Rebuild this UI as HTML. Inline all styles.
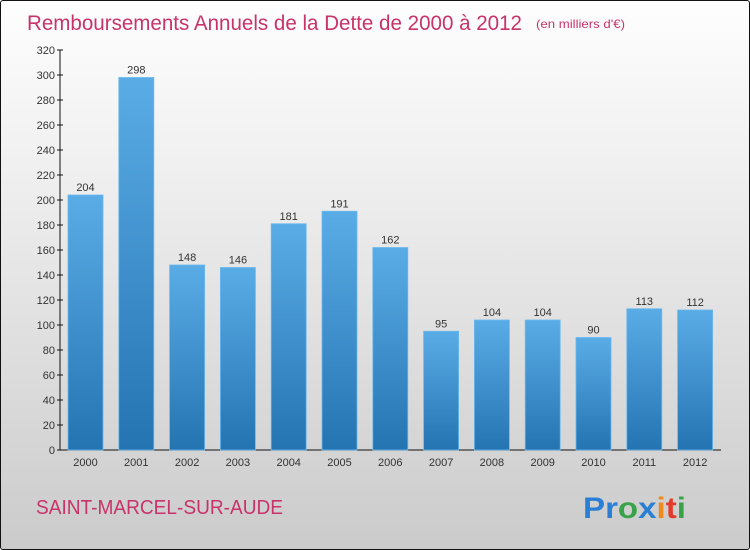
<!DOCTYPE html>
<html><head><meta charset="utf-8"><style>
body{margin:0;width:750px;height:550px;overflow:hidden;font-family:"Liberation Sans",sans-serif}
#wrap{position:absolute;left:0;top:0;width:748px;height:548px;border:1px solid #111;border-radius:3px;background:linear-gradient(#fefefe,#f0f0f0 30%,#cbcbcb)}
</style></head><body>
<div id="wrap">
<svg width="750" height="550" style="position:absolute;left:-1px;top:-1px">
<defs><linearGradient id="bg" x1="0" y1="0" x2="0" y2="1"><stop offset="0" stop-color="#5aace6"/><stop offset="1" stop-color="#2474b2"/></linearGradient></defs>
<text x="27" y="30" font-size="21" fill="#c8336a" textLength="495" lengthAdjust="spacingAndGlyphs">Remboursements Annuels de la Dette de 2000 à 2012</text>
<text x="536" y="28" font-size="12" fill="#c8336a" textLength="89" lengthAdjust="spacingAndGlyphs">(en milliers d'€)</text>
<g id="axes"></g><g id="bars"></g>
<text x="36" y="514" font-size="20" fill="#c8336a" textLength="247" lengthAdjust="spacingAndGlyphs">SAINT-MARCEL-SUR-AUDE</text>
<text x="583" y="518" font-size="30" font-weight="bold" textLength="103" lengthAdjust="spacingAndGlyphs"><tspan fill="#2a7fd4">Pr</tspan><tspan fill="#3aa34a">o</tspan><tspan fill="#2a7fd4">x</tspan><tspan fill="#f08a1c">i</tspan><tspan fill="#e23b2c">t</tspan><tspan fill="#3aa34a">i</tspan></text>
</svg></div>
<script>
const years=["2000","2001","2002","2003","2004","2005","2006","2007","2008","2009","2010","2011","2012"];
const values=[204,298,148,146,181,191,162,95,104,104,90,113,112];
const ticks=[0,20,40,60,80,100,120,140,160,180,200,220,240,260,280,300,320];
const NS="http://www.w3.org/2000/svg";
const y=v=>450-v*400/320, x=i=>68+i*50.8;
function mk(t,a,p,txt){const e=document.createElementNS(NS,t);for(const k in a)e.setAttribute(k,a[k]);if(txt!==undefined)e.textContent=txt;p.appendChild(e);return e;}
const ax=document.getElementById('axes'),bg=document.getElementById('bars');
let l=mk('line',{x1:60,y1:50,x2:60,y2:450,stroke:'#111'},ax);


l=mk('line',{x1:60,y1:450,x2:721,y2:450,stroke:'#111'},ax);


ticks.forEach(t=>{mk('line',{x1:57,y1:y(t),x2:63,y2:y(t),stroke:'#111'},ax);
const e=mk('text',{x:55,y:y(t)+4,'font-size':11,fill:'#333','text-anchor':'end'},ax,t);

});
values.forEach((v,i)=>{const r=mk('rect',{x:x(i),y:y(v),width:35,height:450-y(v),fill:'url(#bg)',stroke:'#6bb8ee','stroke-width':0.8},bg);


const t=mk('text',{x:x(i)+17.5,y:y(v)-4,'font-size':11,fill:'#333','text-anchor':'middle'},bg,v);


const xl=mk('text',{x:x(i)+17.5,y:466,'font-size':11,fill:'#333','text-anchor':'middle'},bg,years[i]);

});
</script>
</body></html>
